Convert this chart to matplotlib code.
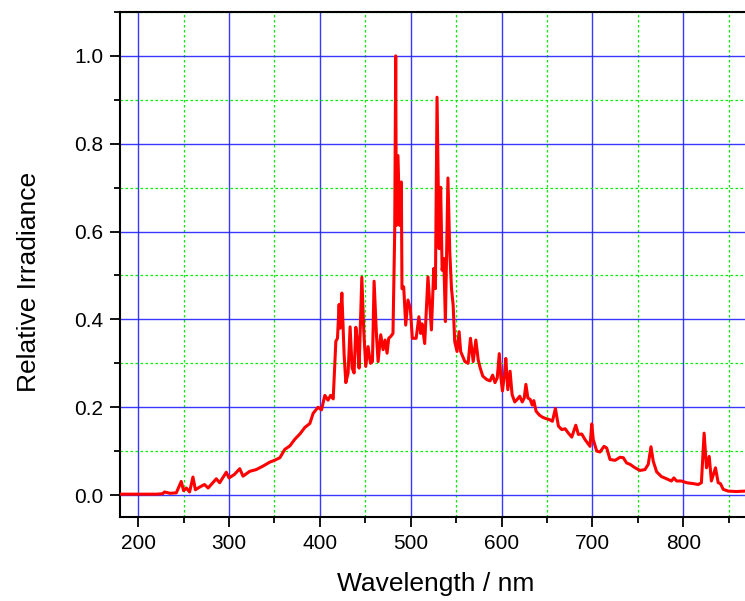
import matplotlib.pyplot as plt
from matplotlib.ticker import MultipleLocator

# spectrum (wavelength in nm, relative irradiance)
wavelength = [
    180, 190, 200, 210, 220, 227, 229, 235, 242, 247.4, 250, 253, 256.6, 260.3,
    263, 267.6, 273, 277, 286, 289.7, 297, 300, 306, 311.8, 315.4, 322.8, 330,
    337.5, 344.9, 350, 356, 361.4, 367, 372.4, 378, 383.5, 389, 392.6, 398,
    401.8, 405.5, 409, 411.8, 414.7,
    417.6, 419.4, 421.2, 422.3, 424.2, 425.6, 426.7, 428.6, 431.1, 433.3, 435.5,
    437.7, 439.6, 441.4, 443.2, 446.2, 448.4, 450.5, 453.1, 455.7, 457.9, 459.7,
    462.3, 464.1, 467, 469.6, 471.8, 474, 475.8, 478, 480.5,
    482.4, 483.5, 484.2, 486, 487.9, 489.7, 490.4, 492.3, 494.5, 497, 499.6,
    501.8, 506, 509, 511, 512.5, 515.4, 519, 522.8, 525.4, 527.2, 529, 531.3,
    533, 534.6, 536.4, 538.2, 541, 543, 544.9, 546.7, 548.5, 551, 553.3, 555,
    559.6, 563.2, 565.8, 568.8, 571.7, 574.3,
    576.4, 579.3, 583.7, 587.3, 590.2, 592.8, 595.3, 597.5, 599.3, 601, 603,
    604.7, 606.9, 609.4, 611.6, 614.5, 617.4, 620, 622.8, 625, 626.8, 629,
    631.5, 633.7, 635.5, 638, 641.7, 645.3, 649, 652.5, 656, 659.3,
    662.6, 666.3, 670, 673.6, 677.3, 681.7, 684.6, 688.3, 692, 697.4, 699.3,
    701, 704.8, 708.4, 712.8, 715.8, 719.4, 725, 730.4, 734, 737.7, 741.4, 747,
    752.4, 757.9, 761.5, 764.5, 767, 770.7, 776, 781.7, 787, 789.7, 792.7, 798,
    803.7, 811, 816.5, 820, 823, 825.6, 828.6, 831, 835.5, 838.5, 841, 844,
    849.5, 858.6, 868,
]
irradiance = [
    0.002, 0.002, 0.002, 0.002, 0.002, 0.003, 0.007, 0.004, 0.005, 0.031, 0.01,
    0.016, 0.007, 0.041, 0.012, 0.018, 0.024, 0.016, 0.037, 0.028, 0.052, 0.039,
    0.047, 0.06, 0.043, 0.054, 0.058, 0.066, 0.075, 0.079, 0.085, 0.104, 0.112,
    0.127, 0.139, 0.154, 0.163, 0.186, 0.2, 0.194, 0.227, 0.216, 0.227, 0.219,
    0.35, 0.357, 0.434, 0.38, 0.46, 0.38, 0.32, 0.256, 0.278, 0.383, 0.289,
    0.278, 0.382, 0.35, 0.289, 0.496, 0.372, 0.293, 0.338, 0.3, 0.304, 0.487,
    0.365, 0.304, 0.365, 0.331, 0.353, 0.323, 0.357, 0.361, 0.368,
    0.6, 1.0, 0.614, 0.773, 0.614, 0.713, 0.47, 0.474, 0.387, 0.444, 0.425,
    0.357, 0.357, 0.406, 0.368, 0.39, 0.345, 0.497, 0.376, 0.516, 0.47, 0.906,
    0.561, 0.701, 0.512, 0.539, 0.395, 0.722, 0.554, 0.47, 0.433, 0.349, 0.327,
    0.372, 0.327, 0.304, 0.3, 0.357, 0.304, 0.353, 0.308,
    0.29, 0.271, 0.263, 0.26, 0.273, 0.256, 0.267, 0.322, 0.267, 0.237, 0.271,
    0.311, 0.24, 0.282, 0.229, 0.212, 0.218, 0.225, 0.212, 0.221, 0.252, 0.221,
    0.218, 0.205, 0.215, 0.191, 0.182, 0.177, 0.174, 0.172, 0.168, 0.197,
    0.157, 0.149, 0.151, 0.141, 0.132, 0.159, 0.138, 0.139, 0.126, 0.111, 0.162,
    0.126, 0.1, 0.098, 0.111, 0.107, 0.081, 0.079, 0.086, 0.085, 0.073, 0.07,
    0.062, 0.056, 0.058, 0.07, 0.11, 0.077, 0.053, 0.042, 0.037, 0.032, 0.039,
    0.032, 0.032, 0.028, 0.026, 0.024, 0.028, 0.141, 0.062, 0.088, 0.032, 0.062,
    0.028, 0.026, 0.013, 0.009, 0.008, 0.009,
]

plt.rcParams['font.family'] = ['Liberation Sans', 'DejaVu Sans']

fig = plt.figure(figsize=(7.45, 6.01), dpi=100)
ax = fig.add_axes([120 / 745, 84 / 601, 1 - 120 / 745, 505 / 601])

ax.plot(wavelength, irradiance, color='#ff0000', linewidth=2.2, zorder=3)

ax.set_xlim(180, 868)
ax.set_ylim(-0.05, 1.1)
ax.xaxis.set_major_locator(MultipleLocator(100))
ax.xaxis.set_minor_locator(MultipleLocator(50))
ax.yaxis.set_major_locator(MultipleLocator(0.2))
ax.yaxis.set_minor_locator(MultipleLocator(0.1))
ax.yaxis.set_major_formatter(plt.FormatStrFormatter('%.1f'))

ax.grid(which='major', color='#2222ff', linewidth=1.0, alpha=0.9, zorder=1)
ax.grid(which='minor', color='#00ee00', linewidth=0.9, linestyle=(0, (2, 2)), zorder=1)
ax.set_axisbelow(True)

ax.spines['right'].set_visible(False)
for s in ['left', 'bottom', 'top']:
    ax.spines[s].set_linewidth(1.5)

ax.tick_params(which='major', direction='out', length=7, width=1.3,
               labelsize=15, pad=5, top=False, right=False)
ax.tick_params(which='minor', direction='out', length=4, width=1.3,
               top=False, right=False)

ax.set_xlabel('Wavelength / nm', fontsize=19)
ax.set_ylabel('Relative Irradiance', fontsize=19)
ax.xaxis.set_label_coords(0.505, -0.108)
ax.yaxis.set_label_coords(-0.126, 0.465)

fig.savefig('out.png', dpi=100)
